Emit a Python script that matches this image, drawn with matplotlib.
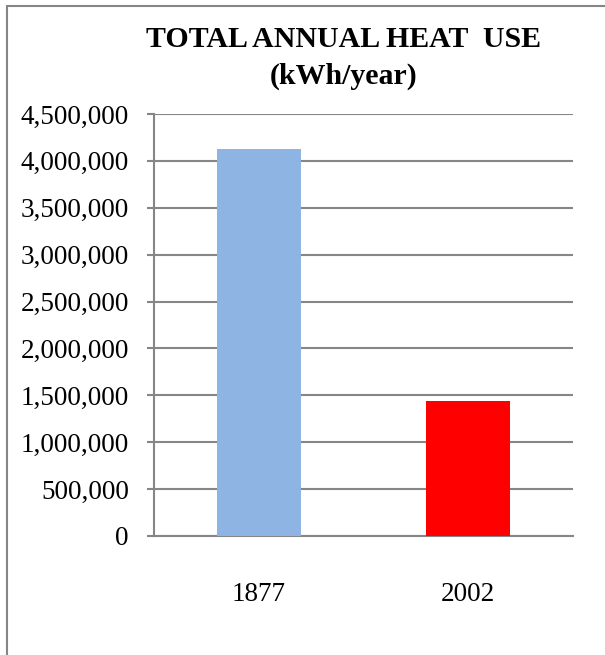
import matplotlib.pyplot as plt
from matplotlib.patches import Rectangle
from matplotlib.ticker import FuncFormatter

years = ["1877", "2002"]
heat_use = [4125000, 1440000]
bar_colors = ["#8EB4E3", "#FF0000"]
y_ticks = [0, 500000, 1000000, 1500000, 2000000, 2500000, 3000000, 3500000, 4000000, 4500000]

plt.rcParams['font.family'] = ['Liberation Serif', 'DejaVu Serif']

fig = plt.figure(figsize=(6.05, 6.55), dpi=100)
ax = fig.add_axes([0.2545, 0.1817, 0.6925, 0.6443])

ax.bar(years, heat_use, width=0.4, color=bar_colors, zorder=3)

ax.set_ylim(0, 4500000)
ax.set_yticks(y_ticks)
ax.yaxis.set_major_formatter(FuncFormatter(lambda v, p: f"{int(v):,}"))
ax.set_xlim(-0.5, 1.5)

ax.grid(axis='y', color='#868686', linewidth=1.5, zorder=0)
for side in ['top', 'right']:
    ax.spines[side].set_visible(False)
ax.spines['left'].set_color('#868686')
ax.spines['bottom'].set_color('#868686')
ax.spines['left'].set_linewidth(1.5)
ax.spines['bottom'].set_linewidth(1.5)

ax.tick_params(axis='y', length=5, width=1.5, color='#868686', pad=13, labelsize=19.5)
ax.tick_params(axis='x', length=0, pad=33, labelsize=19.5)

fig.text(0.568, 0.940, "TOTAL ANNUAL HEAT  USE", ha='center', va='center',
         fontsize=21.5, fontweight='bold')
fig.text(0.568, 0.884, "(kWh/year)", ha='center', va='center',
         fontsize=21.5, fontweight='bold')

# outer chart frame, running off the right and bottom edges
fig.patches.append(Rectangle((0.0116, -0.1), 1.2, 0.9908 + 0.1, transform=fig.transFigure,
                             fill=False, edgecolor='#868686', linewidth=1.5, clip_on=False))

fig.savefig("out.png", dpi=100)
